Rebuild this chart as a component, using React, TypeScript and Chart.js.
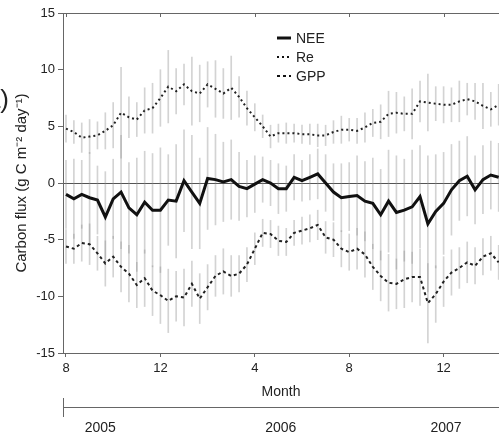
import { useEffect, useRef } from 'react';
import { Chart, registerables } from 'chart.js';

Chart.register(...registerables);

// Month index: 8 = Aug 2005, 12 = Dec 2005, 16 = Apr 2006, ... (step of 1/3 month)
const START_MONTH = 8;
const STEP = 1 / 3;

const re = [4.8, 4.5, 4.0, 4.1, 4.2, 4.6, 5.1, 6.2, 5.8, 5.6, 6.4, 6.6, 7.5, 8.5, 8.1, 8.7, 8.1, 7.9, 8.7, 8.3, 7.9, 8.4, 7.6, 6.6, 5.8, 5.0, 4.1, 4.4, 4.4, 4.4, 4.3, 4.3, 4.2, 4.2, 4.5, 4.7, 4.7, 4.6, 4.9, 5.3, 5.4, 6.1, 6.2, 6.1, 6.1, 7.2, 7.1, 7.0, 6.9, 6.9, 7.2, 7.4, 7.2, 6.8, 6.5, 6.9];
const nee = [-1.0, -1.4, -1.0, -1.3, -1.5, -3.0, -1.4, -0.8, -2.2, -2.8, -1.7, -2.4, -2.4, -1.5, -1.6, 0.2, -0.8, -1.8, 0.4, 0.3, 0.1, 0.3, -0.3, -0.5, -0.1, 0.3, 0.0, -0.5, -0.5, 0.5, 0.2, 0.5, 0.8, 0.0, -0.8, -1.3, -1.2, -1.1, -1.6, -1.8, -2.8, -1.6, -2.6, -2.4, -2.1, -1.2, -3.6, -2.5, -1.8, -0.6, 0.2, 0.6, -0.6, 0.3, 0.7, 0.5];
const gpp = [-5.6, -5.8, -5.3, -5.4, -6.2, -7.1, -6.5, -7.4, -8.0, -9.0, -8.4, -9.5, -9.9, -10.4, -10.0, -10.1, -8.9, -10.2, -9.2, -8.2, -7.8, -8.2, -8.0, -7.2, -5.8, -4.4, -4.5, -5.1, -5.2, -4.4, -4.2, -4.0, -3.7, -4.8, -5.0, -5.8, -6.1, -5.8, -6.3, -7.4, -8.2, -8.8, -8.9, -8.5, -8.3, -8.3, -10.6, -9.8, -8.7, -7.9, -7.5, -7.0, -7.3, -6.5, -6.2, -7.0];

// half-range of the grey daily scatter around each series
const reSpread = [1.2, 1.0, 1.3, 1.5, 1.2, 1.6, 2.0, 4.0, 1.8, 1.5, 2.0, 2.2, 2.5, 3.2, 2.0, 1.8, 3.0, 2.5, 2.0, 2.5, 2.2, 2.8, 1.8, 1.5, 1.2, 1.0, 1.0, 0.8, 0.9, 0.8, 0.8, 0.9, 1.0, 0.9, 1.0, 1.2, 1.0, 1.1, 1.3, 1.2, 1.5, 2.0, 1.8, 1.5, 2.2, 1.8, 2.5, 1.5, 1.6, 1.5, 1.8, 1.4, 1.6, 2.0, 1.5, 1.8];
const neeSpread = [3, 3.5, 3, 4, 3, 4, 3.5, 5, 4, 5, 4.5, 5, 5.5, 4, 5, 4.5, 5, 4, 4.5, 4, 3.5, 3.5, 3, 2.5, 2.5, 2, 2, 2.2, 2, 2, 1.8, 2, 2.2, 2.5, 2.5, 3, 3, 3.5, 3.5, 4, 4, 4.5, 5, 4.5, 5, 4.5, 6, 5, 4.5, 4, 3.5, 3.5, 3, 3, 3, 3];
const gppSpread = [1.5, 1.3, 1.6, 1.8, 1.5, 2, 1.8, 2.2, 2.5, 2, 2.5, 2.2, 2.5, 2.8, 2.2, 2.5, 2.0, 2.2, 2.0, 1.8, 2.0, 1.8, 1.6, 1.5, 1.4, 1.2, 1.2, 1.3, 1.2, 1.1, 1.2, 1.2, 1.3, 1.4, 1.5, 1.6, 1.6, 1.8, 2.0, 2.0, 2.2, 2.5, 2.2, 2.5, 2.2, 2.5, 3.5, 2.5, 2.2, 2.0, 1.8, 1.8, 1.6, 1.6, 1.5, 1.5];

const monthTicks = [8, 12, 16, 20, 24];
const monthTickLabels = ['8', '12', '4', '8', '12'];
const yTicks = [-15, -10, -5, 0, 5, 10, 15];
const years = ['2005', '2006', '2007'];
const yearLabelMonths = [9.45, 17.1, 24.1];
const seriesNames = ['NEE', 'Re', 'GPP'];

const X_MIN = 7.873;
const X_MAX = 26.347;
const FONT = '"Liberation Sans", Arial, sans-serif';
const TEXT = '#222';
const AXIS = '#666';

const months = re.map((_, i) => START_MONTH + i * STEP);
const pts = (arr: number[]) => arr.map((v, i) => ({ x: months[i], y: v }));
const rng = (arr: number[], sp: number[]) => arr.map((v, i) => ({ x: months[i], y: [v - sp[i], v + sp[i]] }));

const decor = {
  id: 'decor',
  afterDraw(chart: any) {
    const { ctx, chartArea: ca, scales } = chart;
    const x = scales.x;
    ctx.save();
    ctx.strokeStyle = AXIS;
    ctx.lineWidth = 1;
    const line = (x1: number, y1: number, x2: number, y2: number) => {
      ctx.beginPath();
      ctx.moveTo(x1, y1);
      ctx.lineTo(x2, y2);
      ctx.stroke();
    };
    // top frame + mirrored ticks
    line(ca.left, ca.top + 0.5, ca.right, ca.top + 0.5);
    monthTicks.forEach((t) => {
      const px = Math.round(x.getPixelForValue(t)) + 0.5;
      line(px, ca.top, px, ca.top + 4);
    });
    // year axis
    line(ca.left, 407.5, ca.right, 407.5);
    line(ca.left + 0.5, 398, ca.left + 0.5, 417);
    ctx.fillStyle = TEXT;
    ctx.font = `14px ${FONT}`;
    ctx.textAlign = 'center';
    ctx.textBaseline = 'middle';
    years.forEach((s, i) => ctx.fillText(s, x.getPixelForValue(yearLabelMonths[i]), 428));
    // legend
    const lx = 277;
    const rows = [38, 57, 76];
    const styles = [
      { w: 3, dash: [] as number[] },
      { w: 2, dash: [2, 3] },
      { w: 2, dash: [3, 3] },
    ];
    ctx.textAlign = 'left';
    rows.forEach((ry, i) => {
      ctx.strokeStyle = '#111';
      ctx.lineWidth = styles[i].w;
      ctx.setLineDash(styles[i].dash);
      line(lx, ry, lx + 14, ry);
      ctx.setLineDash([]);
      ctx.fillText(seriesNames[i], lx + 19, ry + 1);
    });
    // cropped panel label
    ctx.font = `26px ${FONT}`;
    ctx.textAlign = 'right';
    ctx.fillText('(a)', 9, 101);
    ctx.restore();
  },
};

export default function App() {
  const ref = useRef<HTMLCanvasElement | null>(null);
  useEffect(() => {
    if (!ref.current) return;
    const grey = 'rgba(140,140,140,0.38)';
    const chart = new Chart(ref.current, {
      type: 'line',
      data: {
        datasets: [
          { type: 'line', label: 'NEE', data: pts(nee), borderColor: '#111', borderWidth: 3, pointRadius: 0, tension: 0, order: 0 },
          { type: 'line', label: 'Re', data: pts(re), borderColor: '#222', borderWidth: 2, borderDash: [2, 3], pointRadius: 0, tension: 0, order: 0 },
          { type: 'line', label: 'GPP', data: pts(gpp), borderColor: '#222', borderWidth: 2, borderDash: [3, 3], pointRadius: 0, tension: 0, order: 0 },
          { type: 'bar', label: 'Re daily', data: rng(re, reSpread) as any, backgroundColor: grey, barThickness: 1, grouped: false, order: 1 },
          { type: 'bar', label: 'NEE daily', data: rng(nee, neeSpread) as any, backgroundColor: grey, barThickness: 1, grouped: false, order: 1 },
          { type: 'bar', label: 'GPP daily', data: rng(gpp, gppSpread) as any, backgroundColor: grey, barThickness: 1, grouped: false, order: 1 },
        ] as any,
      },
      options: {
        animation: false,
        responsive: false,
        layout: { padding: { top: 13, right: 0, left: 0, bottom: 0 } },
        plugins: { legend: { display: false }, tooltip: { enabled: false } },
        scales: {
          x: {
            type: 'linear',
            min: X_MIN,
            max: X_MAX,
            offset: false,
            afterBuildTicks: (s: any) => { s.ticks = monthTicks.map((v) => ({ value: v })); },
            afterFit: (s: any) => { s.height = 86; },
            ticks: {
              autoSkip: false,
              maxRotation: 0,
              padding: 4,
              color: TEXT,
              font: { family: FONT, size: 13 },
              callback: (v: any) => monthTickLabels[monthTicks.indexOf(Number(v))] ?? '',
            },
            grid: { display: true, offset: false, drawOnChartArea: false, tickLength: 4, color: AXIS },
            border: { display: true, color: AXIS },
            title: { display: true, text: 'Month', color: TEXT, font: { family: FONT, size: 14 }, padding: { top: 0, bottom: 38 } },
          },
          y: {
            type: 'linear',
            min: -15,
            max: 15,
            afterBuildTicks: (s: any) => { s.ticks = yTicks.map((v) => ({ value: v })); },
            afterFit: (s: any) => { s.width = 63; },
            ticks: { color: TEXT, padding: 3, font: { family: FONT, size: 13 } },
            grid: {
              display: true,
              drawOnChartArea: true,
              tickLength: 5,
              color: (c: any) => (c.tick && c.tick.value === 0 ? '#555' : 'rgba(0,0,0,0)'),
              tickColor: AXIS,
            },
            border: { display: true, color: AXIS },
            title: { display: true, text: 'Carbon flux (g C m⁻² day⁻¹)', color: TEXT, font: { family: FONT, size: 15 }, padding: { top: 13, bottom: 0 } },
          },
        },
      } as any,
      plugins: [decor],
    });
    return () => chart.destroy();
  }, []);
  return (
    <div style={{ position: 'fixed', left: 0, top: 0, width: 499, height: 439, background: '#fff' }}>
      <canvas ref={ref} width={499} height={439} style={{ width: 499, height: 439, display: 'block' }} />
    </div>
  );
}
